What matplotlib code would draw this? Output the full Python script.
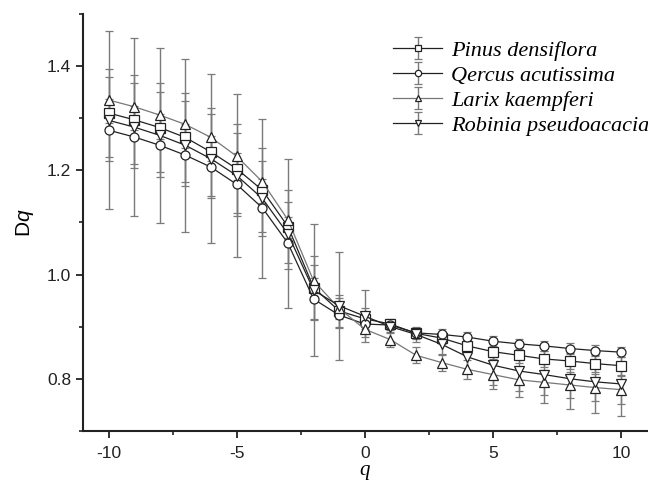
import matplotlib.pyplot as plt
import numpy as np
from matplotlib.ticker import MultipleLocator

plt.rcParams['font.family'] = ['Liberation Sans', 'DejaVu Sans']
plt.rcParams['mathtext.fontset'] = 'custom'
plt.rcParams['mathtext.it'] = 'Liberation Sans:italic'
plt.rcParams['mathtext.rm'] = 'Liberation Sans'
plt.rcParams['axes.unicode_minus'] = False

# === DADOS ===
q = list(range(-10, 11))

pinus = [1.310, 1.297, 1.282, 1.263, 1.235, 1.203, 1.162, 1.092, 0.975, 0.930, 0.915,
         0.905, 0.887, 0.878, 0.863, 0.852, 0.845, 0.838, 0.834, 0.829, 0.825]
qercus = [1.277, 1.264, 1.248, 1.229, 1.206, 1.173, 1.128, 1.060, 0.953, 0.922, 0.905,
          0.903, 0.888, 0.885, 0.880, 0.872, 0.867, 0.863, 0.858, 0.854, 0.851]
larix = [1.335, 1.322, 1.306, 1.288, 1.263, 1.227, 1.178, 1.105, 0.988, 0.935, 0.895,
         0.875, 0.845, 0.831, 0.818, 0.808, 0.798, 0.793, 0.788, 0.783, 0.779]
robinia = [1.296, 1.283, 1.267, 1.248, 1.222, 1.190, 1.146, 1.078, 0.970, 0.940, 0.920,
           0.900, 0.885, 0.866, 0.842, 0.826, 0.815, 0.808, 0.800, 0.794, 0.790]

err_pinus = [0.085, 0.085, 0.085, 0.085, 0.085, 0.085, 0.080, 0.070, 0.060, 0.030, 0.020,
             0.010, 0.010, 0.012, 0.012, 0.014, 0.015, 0.015, 0.016, 0.016, 0.017]
err_qercus = [0.060, 0.060, 0.060, 0.060, 0.060, 0.060, 0.055, 0.050, 0.040, 0.025, 0.015,
              0.010, 0.010, 0.010, 0.009, 0.010, 0.010, 0.010, 0.010, 0.010, 0.010]
err_larix = [0.045, 0.045, 0.045, 0.045, 0.045, 0.045, 0.040, 0.035, 0.030, 0.020, 0.015,
             0.015, 0.015, 0.016, 0.018, 0.020, 0.022, 0.024, 0.025, 0.026, 0.027]
err_robinia = [0.171, 0.170, 0.168, 0.166, 0.162, 0.157, 0.152, 0.143, 0.127, 0.104, 0.050,
               0.012, 0.015, 0.020, 0.030, 0.045, 0.050, 0.055, 0.058, 0.060, 0.062]

series = [
    ('Pinus densiflora', pinus, err_pinus, 's', '#222222'),
    ('Qercus acutissima', qercus, err_qercus, 'o', '#222222'),
    ('Larix kaempferi', larix, err_larix, '^', '#777777'),
    ('Robinia pseudoacacia', robinia, err_robinia, 'v', '#222222'),
]

fig = plt.figure(figsize=(6.48, 4.83), dpi=100)
ax = fig.add_axes([0.128, 0.108, 0.87, 0.863])

for nome, y, e, m, cor in series:
    ax.errorbar(q, y, yerr=e, color=cor, ecolor='#7a7a7a', elinewidth=1.0,
                capsize=3, capthick=1.0, marker=m, markersize=6.5,
                markerfacecolor='white', markeredgecolor='#222222',
                markeredgewidth=0.9, linewidth=0.9, label=nome)

ax.set_xlim(-11, 11)
ax.set_ylim(0.7, 1.5)
ax.xaxis.set_major_locator(MultipleLocator(5))
ax.xaxis.set_minor_locator(MultipleLocator(2.5))
ax.yaxis.set_major_locator(MultipleLocator(0.2))
ax.yaxis.set_minor_locator(MultipleLocator(0.1))
ax.set_yticks([0.8, 1.0, 1.2, 1.4])
ax.tick_params(which='major', direction='out', length=5, width=1.3, labelsize=12.5, colors='#222222')
ax.tick_params(axis='x', which='major', pad=6)
ax.tick_params(which='minor', direction='out', length=3, width=1.2, colors='#222222')

for lado in ['top', 'right']:
    ax.spines[lado].set_visible(False)
for lado in ['left', 'bottom']:
    ax.spines[lado].set_linewidth(1.5)
    ax.spines[lado].set_color('#222222')

ax.set_ylabel('D$q$', fontsize=15, labelpad=8)
ax.set_xlabel('q', fontsize=15, family='Liberation Serif', style='italic', labelpad=0)

leg = ax.legend(loc='upper right', bbox_to_anchor=(1.04, 0.985), frameon=False,
                prop={'family': 'Liberation Serif', 'style': 'italic', 'size': 16},
                handlelength=2.2, handletextpad=0.4, labelspacing=0.2, markerscale=0.7)

fig.savefig('out.png', dpi=100)
